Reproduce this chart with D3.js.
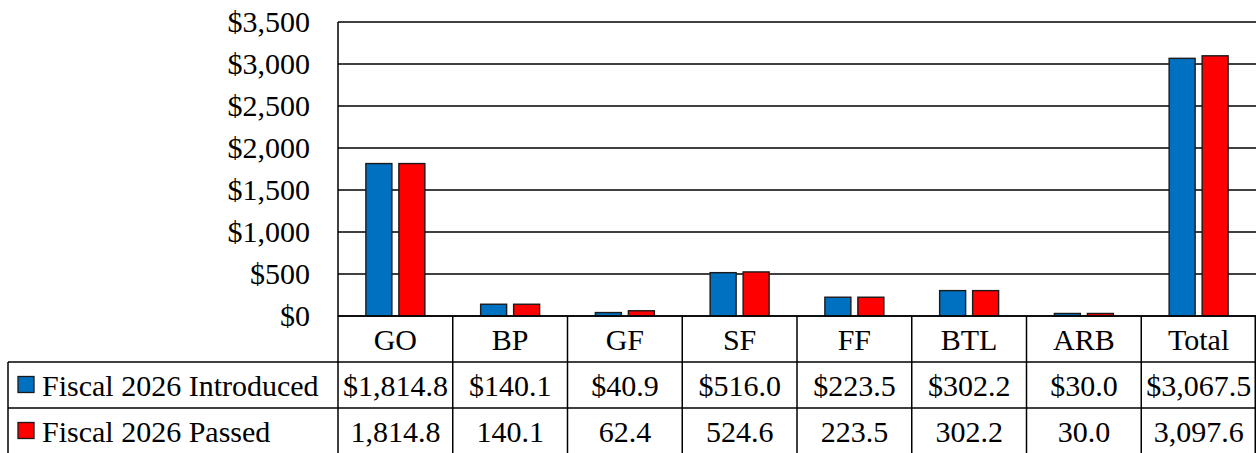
<!DOCTYPE html>
<html>
<head>
<meta charset="utf-8">
<script src="https://cdn.jsdelivr.net/npm/d3@7"></script>
<style>
  body { margin: 0; background: #fff; }
  svg { display: block; font-family: "Liberation Serif", "Times New Roman", serif; }
</style>
</head>
<body>
<svg></svg>
<script>
const categories = ['GO', 'BP', 'GF', 'SF', 'FF', 'BTL', 'ARB', 'Total']
const seriesNames = ['Fiscal 2026 Introduced', 'Fiscal 2026 Passed']
const seriesColors = ['#0070C0', '#FF0000']
const introduced = [1814.8, 140.1, 40.9, 516.0, 223.5, 302.2, 30.0, 3067.5]
const passed = [1814.8, 140.1, 62.4, 524.6, 223.5, 302.2, 30.0, 3097.6]
const yTicks = [0, 500, 1000, 1500, 2000, 2500, 3000, 3500]

const w = 1256, h = 453
const pLeft = 338, pRight = 1256, pTop = 22, pBottom = 316
const rowH = 46, legendLeft = 8

const svg = d3.select('svg').attr('width', w).attr('height', h)

const x = d3.scaleBand().domain(categories).range([pLeft, pRight])
const xs = d3.scaleBand().domain(seriesNames).range([0, x.bandwidth()])
  .paddingInner(0.212).paddingOuter(0.845)
const y = d3.scaleLinear().domain([0, 3500]).range([pBottom, pTop])

// gridlines
svg.append('g')
  .selectAll('line').data(yTicks).enter().append('line')
  .attr('x1', pLeft).attr('x2', pRight)
  .attr('y1', d => y(d)).attr('y2', d => y(d))
  .attr('stroke', '#000').attr('stroke-width', 1.4)

// y labels
const yAx = d3.axisLeft(y).tickValues(yTicks).tickSize(0).tickPadding(0)
  .tickFormat(d => '$' + d3.format(',')(d))
const gy = svg.append('g').attr('transform', `translate(${pLeft - 28}, 0)`).call(yAx)
  .attr('font-family', null).attr('font-size', null)
gy.select('.domain').remove()
gy.selectAll('text').attr('font-size', 30).attr('fill', '#000')

// bars
const data = [introduced, passed]
const gBars = svg.append('g')
seriesNames.forEach((s, si) => {
  gBars.selectAll('rect.s' + si)
    .data(data[si]).enter().append('rect')
    .attr('class', 's' + si)
    .attr('x', (d, i) => x(categories[i]) + xs(s))
    .attr('width', xs.bandwidth())
    .attr('y', d => y(d))
    .attr('height', d => y(0) - y(d))
    .attr('fill', seriesColors[si])
    .attr('stroke', '#1a1a1a').attr('stroke-width', 1.4)
})

// data table
const tbl = svg.append('g')
const line = (x1, y1, x2, y2) => tbl.append('line')
  .attr('x1', x1).attr('y1', y1).attr('x2', x2).attr('y2', y2)
  .attr('stroke', '#000').attr('stroke-width', 1.5)

// plot left axis continues through table
line(pLeft, pTop, pLeft, h)
line(pRight - 0.75, pBottom, pRight - 0.75, h)
categories.slice(1).forEach(c => line(x(c), pBottom, x(c), h))
line(pLeft, pBottom, pRight, pBottom)
line(legendLeft, pBottom + rowH, pRight, pBottom + rowH)
line(legendLeft, pBottom + 2 * rowH, pRight, pBottom + 2 * rowH)
line(legendLeft, pBottom + rowH, legendLeft, h)

// header row
tbl.selectAll('text.cat').data(categories).enter().append('text')
  .attr('class', 'cat')
  .attr('x', d => x(d) + x.bandwidth() / 2)
  .attr('y', pBottom + rowH / 2)
  .attr('dy', '0.35em')
  .attr('text-anchor', 'middle')
  .attr('font-size', 30)
  .text(d => d)

const fmt = d3.format(',.1f')
data.forEach((vals, si) => {
  const cy = pBottom + rowH * (si + 1) + rowH / 2
  tbl.selectAll('text.v' + si).data(vals).enter().append('text')
    .attr('class', 'v' + si)
    .attr('x', (d, i) => x(categories[i]) + x.bandwidth() / 2)
    .attr('y', cy)
    .attr('dy', '0.35em')
    .attr('text-anchor', 'middle')
    .attr('font-size', 30)
    .text(d => (si === 0 ? '$' : '') + fmt(d))

  tbl.append('rect')
    .attr('x', 18).attr('y', cy - 8.5)
    .attr('width', 16).attr('height', 16)
    .attr('fill', seriesColors[si])
    .attr('stroke', '#1a1a1a').attr('stroke-width', 1.3)
  tbl.append('text')
    .attr('x', 42).attr('y', cy)
    .attr('dy', '0.35em')
    .attr('font-size', 30)
    .text(seriesNames[si])
})
</script>
</body>
</html>
